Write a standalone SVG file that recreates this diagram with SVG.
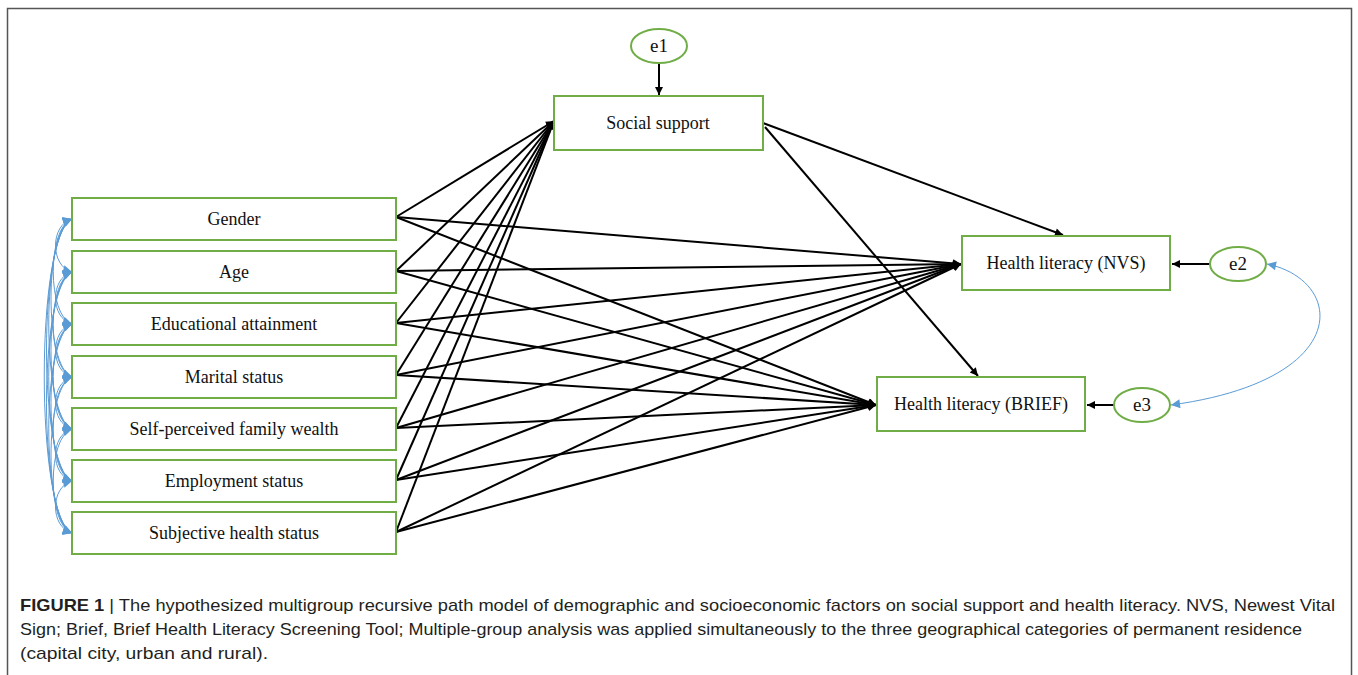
<svg xmlns="http://www.w3.org/2000/svg" width="1358" height="675" viewBox="0 0 1358 675">
<style>
.box{fill:#fff;stroke:#70ad47;stroke-width:2}
.lbl{font-family:"Liberation Serif","Times New Roman",serif;font-size:18px;fill:#111;text-anchor:middle}
.elbl{font-family:"Liberation Serif","Times New Roman",serif;font-size:19px;fill:#111;text-anchor:middle}
.path{stroke:#000;stroke-width:2;fill:none;marker-end:url(#ah)}
.cov{stroke:#5b9bd5;stroke-width:1;fill:none;marker-start:url(#bh);marker-end:url(#bh)}
.cap{font-family:"Liberation Sans",Arial,sans-serif;font-size:17px;fill:#231f20}
.frame{stroke:#555;stroke-width:1.5;fill:none}
</style>
<defs>
<marker id="ah" viewBox="0 0 10 10" refX="10" refY="5" markerWidth="11" markerHeight="8" markerUnits="userSpaceOnUse" orient="auto">
<path d="M0,0 L10,5 L0,10 z" fill="#000"/>
</marker>
<marker id="bh" viewBox="0 0 10 10" refX="10" refY="5" markerWidth="10" markerHeight="9" markerUnits="userSpaceOnUse" orient="auto-start-reverse">
<path d="M0,0 L10,5 L0,10 z" fill="#5b9bd5"/>
</marker>
</defs>
<rect width="1358" height="675" fill="#fff"/>
<path class="frame" d="M7.5,676 V8.5 H1351.5 V676"/>

<g id="connectors">
<line class="path" x1="659" y1="63" x2="659" y2="95"/>
<line class="path" x1="1210" y1="264" x2="1172" y2="264"/>
<line class="path" x1="1114" y1="405" x2="1087" y2="405"/>
<line class="path" x1="763" y1="123" x2="1063" y2="235"/>
<line class="path" x1="765" y1="127" x2="978" y2="376"/>
<line class="path" x1="396" y1="217" x2="554" y2="121"/>
<line class="path" x1="396" y1="271" x2="554" y2="121"/>
<line class="path" x1="396" y1="323" x2="554" y2="121"/>
<line class="path" x1="396" y1="375" x2="554" y2="121"/>
<line class="path" x1="396" y1="428" x2="554" y2="121"/>
<line class="path" x1="396" y1="480" x2="554" y2="121"/>
<line class="path" x1="396" y1="532" x2="554" y2="121"/>
<line class="path" x1="396" y1="217" x2="961" y2="264"/>
<line class="path" x1="396" y1="271" x2="961" y2="264"/>
<line class="path" x1="396" y1="323" x2="961" y2="264"/>
<line class="path" x1="396" y1="375" x2="961" y2="264"/>
<line class="path" x1="396" y1="428" x2="961" y2="264"/>
<line class="path" x1="396" y1="480" x2="961" y2="264"/>
<line class="path" x1="396" y1="532" x2="961" y2="264"/>
<line class="path" x1="396" y1="217" x2="876" y2="405"/>
<line class="path" x1="396" y1="271" x2="876" y2="405"/>
<line class="path" x1="396" y1="323" x2="876" y2="405"/>
<line class="path" x1="396" y1="375" x2="876" y2="405"/>
<line class="path" x1="396" y1="428" x2="876" y2="405"/>
<line class="path" x1="396" y1="480" x2="876" y2="405"/>
<line class="path" x1="396" y1="532" x2="876" y2="405"/>
<path class="cov" d="M72,219 C50,225 50,266 72,272"/>
<path class="cov" d="M72,219 C47,227 47,316 72,324"/>
<path class="cov" d="M72,219 C44,229 44,367 72,377"/>
<path class="cov" d="M72,219 C41,231 41,417 72,429"/>
<path class="cov" d="M72,219 C38,233 38,467 72,481"/>
<path class="cov" d="M72,219 C35,235 35,517 72,533"/>
<path class="cov" d="M72,272 C50,278 50,318 72,324"/>
<path class="cov" d="M72,272 C47,280 47,369 72,377"/>
<path class="cov" d="M72,272 C44,282 44,419 72,429"/>
<path class="cov" d="M72,272 C41,284 41,469 72,481"/>
<path class="cov" d="M72,272 C38,286 38,519 72,533"/>
<path class="cov" d="M72,324 C50,330 50,371 72,377"/>
<path class="cov" d="M72,324 C47,332 47,421 72,429"/>
<path class="cov" d="M72,324 C44,334 44,471 72,481"/>
<path class="cov" d="M72,324 C41,336 41,521 72,533"/>
<path class="cov" d="M72,377 C50,383 50,423 72,429"/>
<path class="cov" d="M72,377 C47,385 47,473 72,481"/>
<path class="cov" d="M72,377 C44,387 44,523 72,533"/>
<path class="cov" d="M72,429 C50,435 50,475 72,481"/>
<path class="cov" d="M72,429 C47,437 47,525 72,533"/>
<path class="cov" d="M72,481 C50,487 50,527 72,533"/>
<path class="cov" d="M1267,264 C1345,280 1355,380 1171,405"/>
</g>

<g id="gender"><rect class="box" x="72" y="198" width="324" height="42"/><text class="lbl" x="234" y="225">Gender</text></g>
<g id="age"><rect class="box" x="72" y="251" width="324" height="42"/><text class="lbl" x="234" y="278">Age</text></g>
<g id="education"><rect class="box" x="72" y="303" width="324" height="42"/><text class="lbl" x="234" y="330">Educational attainment</text></g>
<g id="marital"><rect class="box" x="72" y="356" width="324" height="42"/><text class="lbl" x="234" y="383">Marital status</text></g>
<g id="wealth"><rect class="box" x="72" y="408" width="324" height="42"/><text class="lbl" x="234" y="435">Self-perceived family wealth</text></g>
<g id="employment"><rect class="box" x="72" y="460" width="324" height="42"/><text class="lbl" x="234" y="487">Employment status</text></g>
<g id="health"><rect class="box" x="72" y="512" width="324" height="42"/><text class="lbl" x="234" y="539">Subjective health status</text></g>

<g id="social"><rect class="box" x="554" y="96" width="209" height="54"/><text class="lbl" x="658" y="129">Social support</text></g>
<g id="nvs"><rect class="box" x="962" y="236" width="208" height="54"/><text class="lbl" x="1066" y="269">Health literacy (NVS)</text></g>
<g id="brief"><rect class="box" x="877" y="377" width="208" height="54"/><text class="lbl" x="981" y="410">Health literacy (BRIEF)</text></g>

<g id="e1"><ellipse class="box" cx="659" cy="46" rx="28" ry="17"/><text class="elbl" x="659" y="52">e1</text></g>
<g id="e2"><ellipse class="box" cx="1238" cy="264" rx="28" ry="17"/><text class="elbl" x="1238" y="270">e2</text></g>
<g id="e3"><ellipse class="box" cx="1142" cy="405" rx="28" ry="17"/><text class="elbl" x="1142" y="411">e3</text></g>

<g id="caption">
<text class="cap" x="20" y="611" textLength="1315" lengthAdjust="spacingAndGlyphs"><tspan font-weight="bold">FIGURE 1</tspan> | The hypothesized multigroup recursive path model of demographic and socioeconomic factors on social support and health literacy. NVS, Newest Vital</text>
<text class="cap" x="20" y="635" textLength="1282" lengthAdjust="spacingAndGlyphs">Sign; Brief, Brief Health Literacy Screening Tool; Multiple-group analysis was applied simultaneously to the three geographical categories of permanent residence</text>
<text class="cap" x="20" y="659" textLength="248" lengthAdjust="spacingAndGlyphs">(capital city, urban and rural).</text>
</g>
</svg>
